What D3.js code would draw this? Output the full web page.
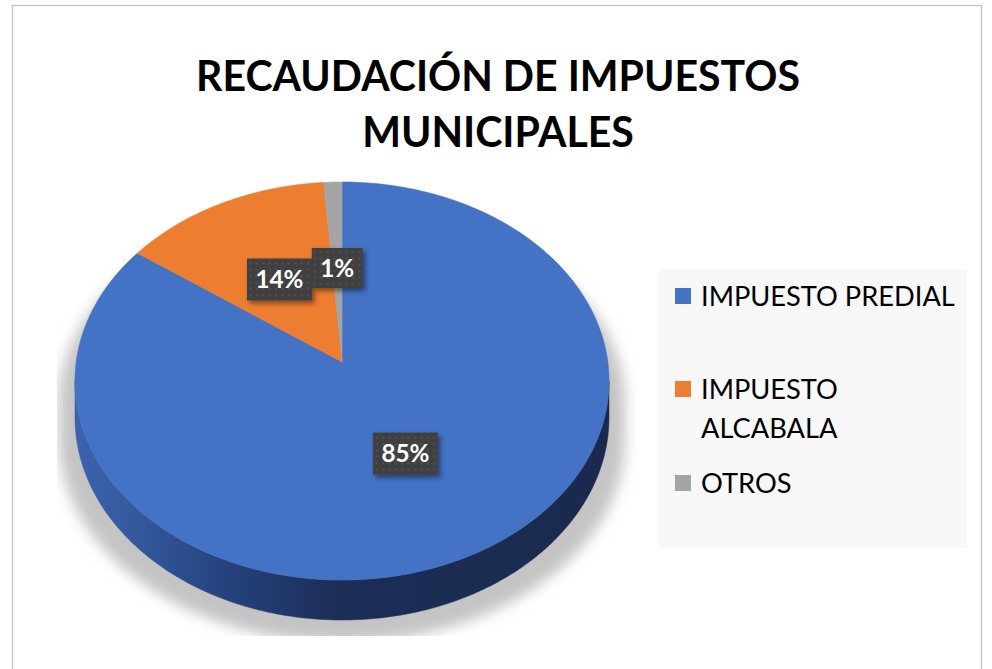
<!DOCTYPE html>
<html>
<head>
<meta charset="utf-8">
<script src="https://cdn.jsdelivr.net/npm/d3@7"></script>
<style>
  html, body { margin: 0; padding: 0; background: #ffffff; }
  svg { display: block; }
</style>
</head>
<body>
<svg id="chart" width="992" height="669"></svg>
<script>
// ---------- DATA ----------
const categories = ["IMPUESTO PREDIAL", "IMPUESTO ALCABALA", "OTROS"];
const values = [84.9, 13.9, 1.2];
const colors = ["#4472c4", "#ed7d31", "#a5a5a5"];
const titleLines = ["RECAUDACIÓN DE IMPUESTOS", "MUNICIPALES"];

// ---------- SETUP ----------
const W = 992, H = 669;
const svg = d3.select("#chart");
const defs = svg.append("defs");

svg.append("rect").attr("width", W).attr("height", H).attr("fill", "#ffffff");
svg.append("rect")
  .attr("x", 12.5).attr("y", 5.5).attr("width", 969).attr("height", 700)
  .attr("fill", "#ffffff").attr("stroke", "#c4c4c4").attr("stroke-width", 1.3);

// perspective projection of the pie plane
const cx = 342, cy = 362, S = 265.8, A = 197.2, B = 0.0955, DEPTH = 36.2;
function proj(theta, r, depth) {
  const u = r * Math.sin(theta), v = r * Math.cos(theta);
  const den = 1 + B * v;
  return [cx + S * u / den, cy - A * v / den + depth / den];
}
const tFrontL = Math.acos(-B);
const tFrontR = 2 * Math.PI - Math.acos(-B);

function sample(a0, a1, r, depth) {
  const n = Math.max(2, Math.ceil(Math.abs(a1 - a0) / 0.01));
  return d3.range(n + 1).map(i => proj(a0 + (a1 - a0) * i / n, r, depth));
}
const line = d3.line();

// ---------- PIE ----------
const pie = d3.pie().sort(null).value(d => d)(values);
const total = d3.sum(values);
const pct = d3.format(".0%");

// shadow
const shadowFilter = defs.append("filter").attr("id", "shadowBlur")
  .attr("x", "-20%").attr("y", "-20%").attr("width", "140%").attr("height", "140%");
shadowFilter.append("feGaussianBlur").attr("stdDeviation", 6.5);
defs.append("clipPath").attr("id", "plotClip")
  .append("rect").attr("x", 57).attr("y", 150).attr("width", 580).attr("height", 486);

const silhouette = sample(tFrontR - 2 * Math.PI, tFrontL, 1, 0)
  .concat(sample(tFrontL, tFrontR, 1, DEPTH));
svg.append("g").attr("clip-path", "url(#plotClip)")
  .append("path")
  .attr("d", line(silhouette) + "Z")
  .attr("transform", `translate(${cx},${cy + 22}) scale(1.06,1.0) translate(${-cx},${-cy})`)
  .attr("fill", "#c4c4c4")
  .attr("filter", "url(#shadowBlur)");

// side gradient
const grad = defs.append("linearGradient").attr("id", "sideGrad")
  .attr("gradientUnits", "userSpaceOnUse")
  .attr("x1", 75).attr("x2", 609).attr("y1", 0).attr("y2", 0);
[[0, "#3d63ad"], [0.12, "#33589c"], [0.3, "#25407a"], [0.5, "#1c2d56"], [1, "#1a2a4e"]]
  .forEach(([o, c]) => grad.append("stop").attr("offset", o).attr("stop-color", c));

const gSide = svg.append("g");
pie.forEach((d, i) => {
  const a0 = Math.max(d.startAngle, tFrontL), a1 = Math.min(d.endAngle, tFrontR);
  if (a1 <= a0) return;
  const pts = sample(a0, a1, 1, 0).concat(sample(a1, a0, 1, DEPTH));
  gSide.append("path").attr("d", line(pts) + "Z")
    .attr("fill", i === 0 ? "url(#sideGrad)" : d3.color(colors[i]).darker(1.2))
    .attr("stroke", i === 0 ? "url(#sideGrad)" : "none").attr("stroke-width", 0.5);
});

const gTop = svg.append("g");
pie.forEach((d, i) => {
  const pts = [proj(0, 0, 0)].concat(sample(d.startAngle, d.endAngle, 1, 0));
  gTop.append("path").attr("d", line(pts) + "Z")
    .attr("fill", colors[i]).attr("stroke", colors[i]).attr("stroke-width", 0.6);
});

// ---------- DATA LABELS ----------
const pat = defs.append("pattern").attr("id", "dots")
  .attr("patternUnits", "userSpaceOnUse").attr("width", 6.4).attr("height", 6.4);
pat.append("rect").attr("width", 6.4).attr("height", 6.4).attr("fill", "#404040");
pat.append("rect").attr("x", 2.4).attr("y", 2.4).attr("width", 1.6).attr("height", 1.6).attr("fill", "#5a5a5a");

const ds = defs.append("filter").attr("id", "boxShadow")
  .attr("x", "-30%").attr("y", "-30%").attr("width", "170%").attr("height", "170%");
ds.append("feDropShadow").attr("dx", 2.5).attr("dy", 3).attr("stdDeviation", 2.5)
  .attr("flood-color", "#000").attr("flood-opacity", 0.45);

const gLab = svg.append("g");
const labelFont = "Lato, 'Open Sans', sans-serif";
const probe = svg.append("text").attr("font-family", labelFont).attr("font-weight", 700)
  .attr("font-size", 24).text("85%");
const labelSize = 24 * 48 / probe.node().getComputedTextLength();
probe.remove();

pie.forEach((d, i) => {
  const mid = (d.startAngle + d.endAngle) / 2;
  const [x, y] = proj(mid, 0.5, 0);
  const g = gLab.append("g").attr("transform", `translate(${x},${y})`);
  const t = g.append("text")
    .attr("font-family", labelFont).attr("font-weight", 700)
    .attr("font-size", labelSize).attr("fill", "#ffffff")
    .attr("text-anchor", "middle").attr("dy", "0.36em")
    .text(pct(d.value / total));
  const tw = t.node().getComputedTextLength();
  const bw = tw + 17, bh = i === 2 ? 40 : 42;
  g.insert("rect", "text")
    .attr("x", -bw / 2).attr("y", -bh / 2).attr("width", bw).attr("height", bh)
    .attr("fill", "url(#dots)").attr("filter", "url(#boxShadow)");
});

// ---------- TITLE ----------
const titleFont = "Lato, 'Open Sans', sans-serif";
const tprobe = svg.append("text").attr("font-family", titleFont).attr("font-weight", 700)
  .attr("font-size", 40).text(titleLines[0]);
const titleSize = 40 * 604 / tprobe.node().getComputedTextLength();
tprobe.remove();
const titleBase = [91, 147];
titleLines.forEach((s, i) => {
  svg.append("text").attr("x", 498).attr("y", titleBase[i])
    .attr("text-anchor", "middle").attr("font-family", titleFont)
    .attr("font-weight", 700).attr("font-size", titleSize).attr("fill", "#000000")
    .text(s);
});

// ---------- LEGEND ----------
svg.append("rect").attr("x", 658).attr("y", 269).attr("width", 309).attr("height", 279)
  .attr("fill", "#f8f8f8");
const legFont = "Lato, 'Open Sans', sans-serif";
const lprobe = svg.append("text").attr("font-family", legFont).attr("font-size", 26)
  .text(categories[0]);
const legSize = 26 * 254 / lprobe.node().getComputedTextLength();
lprobe.remove();

function wrap(str, maxW) {
  const words = str.split(" ");
  const lines = [];
  let cur = "";
  const p = svg.append("text").attr("font-family", legFont).attr("font-size", legSize);
  words.forEach(w => {
    const test = cur ? cur + " " + w : w;
    p.text(test);
    if (p.node().getComputedTextLength() > maxW && cur) { lines.push(cur); cur = w; }
    else cur = test;
  });
  lines.push(cur);
  p.remove();
  return lines;
}

const legRowBase = [306, 399, 493];
const lineGap = 38.5;
categories.forEach((c, i) => {
  const lines = wrap(c, 258);
  const base = legRowBase[i];
  svg.append("rect").attr("x", 675).attr("y", base - 18).attr("width", 16).attr("height", 16)
    .attr("fill", colors[i]);
  const t = svg.append("text").attr("x", 701).attr("y", base)
    .attr("font-family", legFont).attr("font-size", legSize).attr("fill", "#000000");
  lines.forEach((l, j) => {
    t.append("tspan").attr("x", 701).attr("y", base + j * lineGap).text(l);
  });
});
</script>
</body>
</html>
